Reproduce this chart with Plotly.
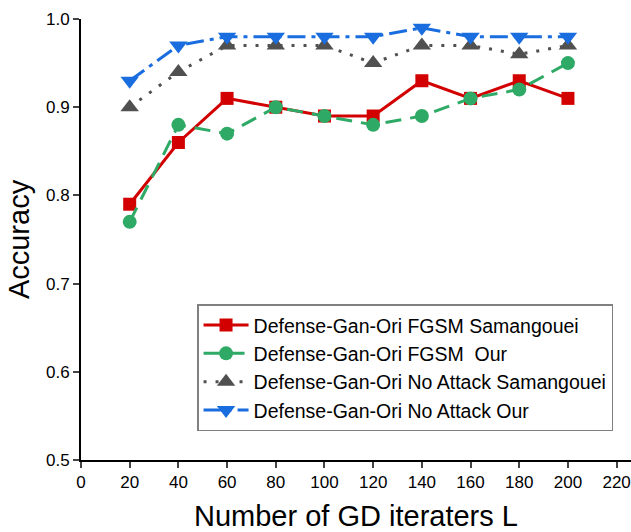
import plotly.graph_objects as go

iters = [20, 40, 60, 80, 100, 120, 140, 160, 180, 200]
fgsm_sam = [0.79, 0.86, 0.91, 0.90, 0.89, 0.89, 0.93, 0.91, 0.93, 0.91]
fgsm_our = [0.77, 0.88, 0.87, 0.90, 0.89, 0.88, 0.89, 0.91, 0.92, 0.95]
noatk_sam = [0.90, 0.94, 0.97, 0.97, 0.97, 0.95, 0.97, 0.97, 0.96, 0.97]
noatk_our = [0.93, 0.97, 0.98, 0.98, 0.98, 0.98, 0.99, 0.98, 0.98, 0.98]
x_ticks = [0, 20, 40, 60, 80, 100, 120, 140, 160, 180, 200, 220]
y_ticks = [0.5, 0.6, 0.7, 0.8, 0.9, 1.0]

fig = go.Figure()
fig.add_trace(go.Scatter(x=iters, y=fgsm_sam, mode="lines+markers",
    name="Defense-Gan-Ori FGSM Samangouei",
    line=dict(color="#d20000", width=3, dash="solid"),
    marker=dict(symbol="square", size=13, color="#d20000")))
fig.add_trace(go.Scatter(x=iters, y=fgsm_our, mode="lines+markers",
    name="Defense-Gan-Ori FGSM  Our",
    line=dict(color="#2eaa66", width=3, dash="16px,9px"),
    marker=dict(symbol="circle", size=14, color="#2eaa66")))
fig.add_trace(go.Scatter(x=iters, y=noatk_sam, mode="lines+markers",
    name="Defense-Gan-Ori No Attack Samangouei",
    line=dict(color="#505050", width=3, dash="3px,9px"),
    marker=dict(symbol="triangle-up", size=16, color="#505050")))
fig.add_trace(go.Scatter(x=iters, y=noatk_our, mode="lines+markers",
    name="Defense-Gan-Ori No Attack Our",
    line=dict(color="#1a6ddf", width=3, dash="18px,6px,4px,6px"),
    marker=dict(symbol="triangle-down", size=16, color="#1a6ddf")))

fig.update_layout(
    width=631, height=532,
    margin=dict(l=81, r=0, t=19, b=72),
    paper_bgcolor="white", plot_bgcolor="white",
    font=dict(family="Liberation Sans, Arial, sans-serif", color="black"),
    xaxis=dict(range=[0, 225.9], tickvals=x_ticks, ticks="outside", ticklen=6,
               tickwidth=2, showline=True, linecolor="black", linewidth=2,
               showgrid=False, zeroline=False, tickfont=dict(size=17),
               title=dict(text="Number of GD iteraters L", font=dict(size=29), standoff=16)),
    yaxis=dict(range=[0.5, 1.0], tickvals=y_ticks, tickformat=".1f", ticks="outside",
               ticklen=6, tickwidth=2, showline=True, linecolor="black", linewidth=2,
               showgrid=False, zeroline=False, tickfont=dict(size=17),
               title=dict(text="Accuracy", font=dict(size=29), standoff=8)),
    legend=dict(x=0.211, y=0.353, xanchor="left", yanchor="top",
                bordercolor="#808080", borderwidth=1.5, bgcolor="white",
                font=dict(size=19.5), tracegroupgap=0, itemwidth=45),
    showlegend=True,
)
fig.write_html("out.html")
